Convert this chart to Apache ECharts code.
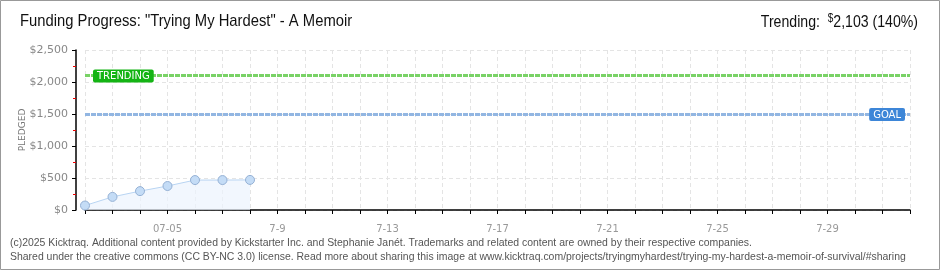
<!DOCTYPE html>
<html><head><meta charset="utf-8">
<script src="https://cdn.jsdelivr.net/npm/echarts@6/dist/echarts.min.js"></script>
<style>html,body{margin:0;padding:0;background:#fff}#c{width:940px;height:270px}</style>
</head><body><div id="c"></div>
<script>
// Data
const days = ['07-02','07-03','07-04','07-05','07-06','07-07','07-08','07-09','07-10','07-11','07-12','07-13','07-14','07-15','07-16','07-17','07-18','07-19','07-20','07-21','07-22','07-23','07-24','07-25','07-26','07-27','07-28','07-29','07-30','07-31','08-01'];
const tickLabels = {'07-05':'07-05','07-09':'7-9','07-13':'7-13','07-17':'7-17','07-21':'7-21','07-25':'7-25','07-29':'7-29'};
const pledged = [70, 205, 295, 375, 468, 468, 470];
const goal = 1500;
const trending = 2103;
const yTicks = [0, 500, 1000, 1500, 2000, 2500];

const chart = echarts.init(document.getElementById('c'), null, {renderer:'canvas'});
const ff = '"Liberation Sans"';
chart.setOption({
  animation:false,
  grid:{left:85, right:30, top:50, bottom:60},
  xAxis:{
    type:'category', data:days, boundaryGap:false, offset:10,
    axisLine:{lineStyle:{color:'#000', width:1.5}},
    axisTick:{show:true, interval:0, length:4, lineStyle:{color:'#000'}},
    axisLabel:{interval:0, color:'#999', fontSize:10, fontFamily:'DejaVu Sans', margin:4,
      formatter:v=>tickLabels[v]||''},
    splitLine:{show:true, interval:0, lineStyle:{color:'#e4e4e4', type:[4,3]}}
  },
  yAxis:{
    type:'value', min:yTicks[0], max:yTicks[yTicks.length-1], interval:500, offset:9,
    name:'PLEDGED', nameLocation:'middle', nameGap:49, nameMoveOverlap:false,
    nameTextStyle:{color:'#777', fontSize:9, fontFamily:'DejaVu Sans'},
    axisLine:{show:true, lineStyle:{color:'#000', width:1.5}},
    axisTick:{show:true, length:4, lineStyle:{color:'#000'}},
    minorTick:{show:true, splitNumber:2, length:3, lineStyle:{color:'#e00'}},
    axisLabel:{color:'#888', fontSize:11, fontFamily:'DejaVu Sans', margin:8,
      formatter:v=>'$'+v.toLocaleString('en-US')},
    splitLine:{show:true, lineStyle:{color:'#e4e4e4', type:[4,3]}}
  },
  series:[{
    type:'line', data:pledged, symbol:'circle', symbolSize:9,
    itemStyle:{color:'#c4dcf6', borderColor:'#94b0d4', borderWidth:1},
    lineStyle:{color:'#b8d4f2', width:1},
    areaStyle:{color:'#edf4fd'},
    markLine:{
      silent:true, symbol:'none',
      data:[
        {yAxis:trending, lineStyle:{color:'#79d266', width:3, type:[5,1]},
          label:{show:true, formatter:'TRENDING', position:'insideStartTop', distance:0, offset:[8,7],
            color:'#fff', backgroundColor:'#14b414', borderRadius:2, padding:[2,4,1,4],
            fontSize:10, fontFamily:'DejaVu Sans'}},
        {yAxis:goal, lineStyle:{color:'#92b6e2', width:3, type:[5,1]},
          label:{show:true, formatter:'GOAL', position:'insideEndTop', distance:0, offset:[-5,7],
            color:'#fff', backgroundColor:'#3d86d8', borderRadius:2, padding:[2,4,1,4],
            fontSize:10, fontFamily:'DejaVu Sans'}}
      ]
    }
  }],
  graphic:[
    {type:'rect', shape:{x:0.5,y:0.5,width:939,height:269}, style:{fill:'none', stroke:'#999', lineWidth:1}, silent:true},
    {type:'text', x:20, y:13, scaleX:0.87, style:{text:'Funding Progress: "Trying My Hardest" - A Memoir', font:'17px '+ff, fill:'#111', textAlign:'left', textVerticalAlign:'top'}},
    {type:'text', x:918, y:13, scaleX:0.83, style:{rich:{a:{font:'17px '+ff, fill:'#111'}, b:{font:'12px '+ff, fill:'#111', verticalAlign:'top', padding:[0,0,6,0]}},
      text:'{a|Trending:  }{b|$}{a|2,103 (140%)}', textAlign:'right', textVerticalAlign:'top'}},
    {type:'text', x:10, y:237, scaleX:0.95, style:{text:'(c)2025 Kicktraq. Additional content provided by Kickstarter Inc. and Stephanie Janét. Trademarks and related content are owned by their respective companies.', font:'11px '+ff, fill:'#555', textAlign:'left', textVerticalAlign:'top'}},
    {type:'text', x:10, y:251, scaleX:0.95, style:{text:'Shared under the creative commons (CC BY-NC 3.0) license. Read more about sharing this image at www.kicktraq.com/projects/tryingmyhardest/trying-my-hardest-a-memoir-of-survival/#sharing', font:'11px '+ff, fill:'#555', textAlign:'left', textVerticalAlign:'top'}}
  ]
});
</script></body></html>
